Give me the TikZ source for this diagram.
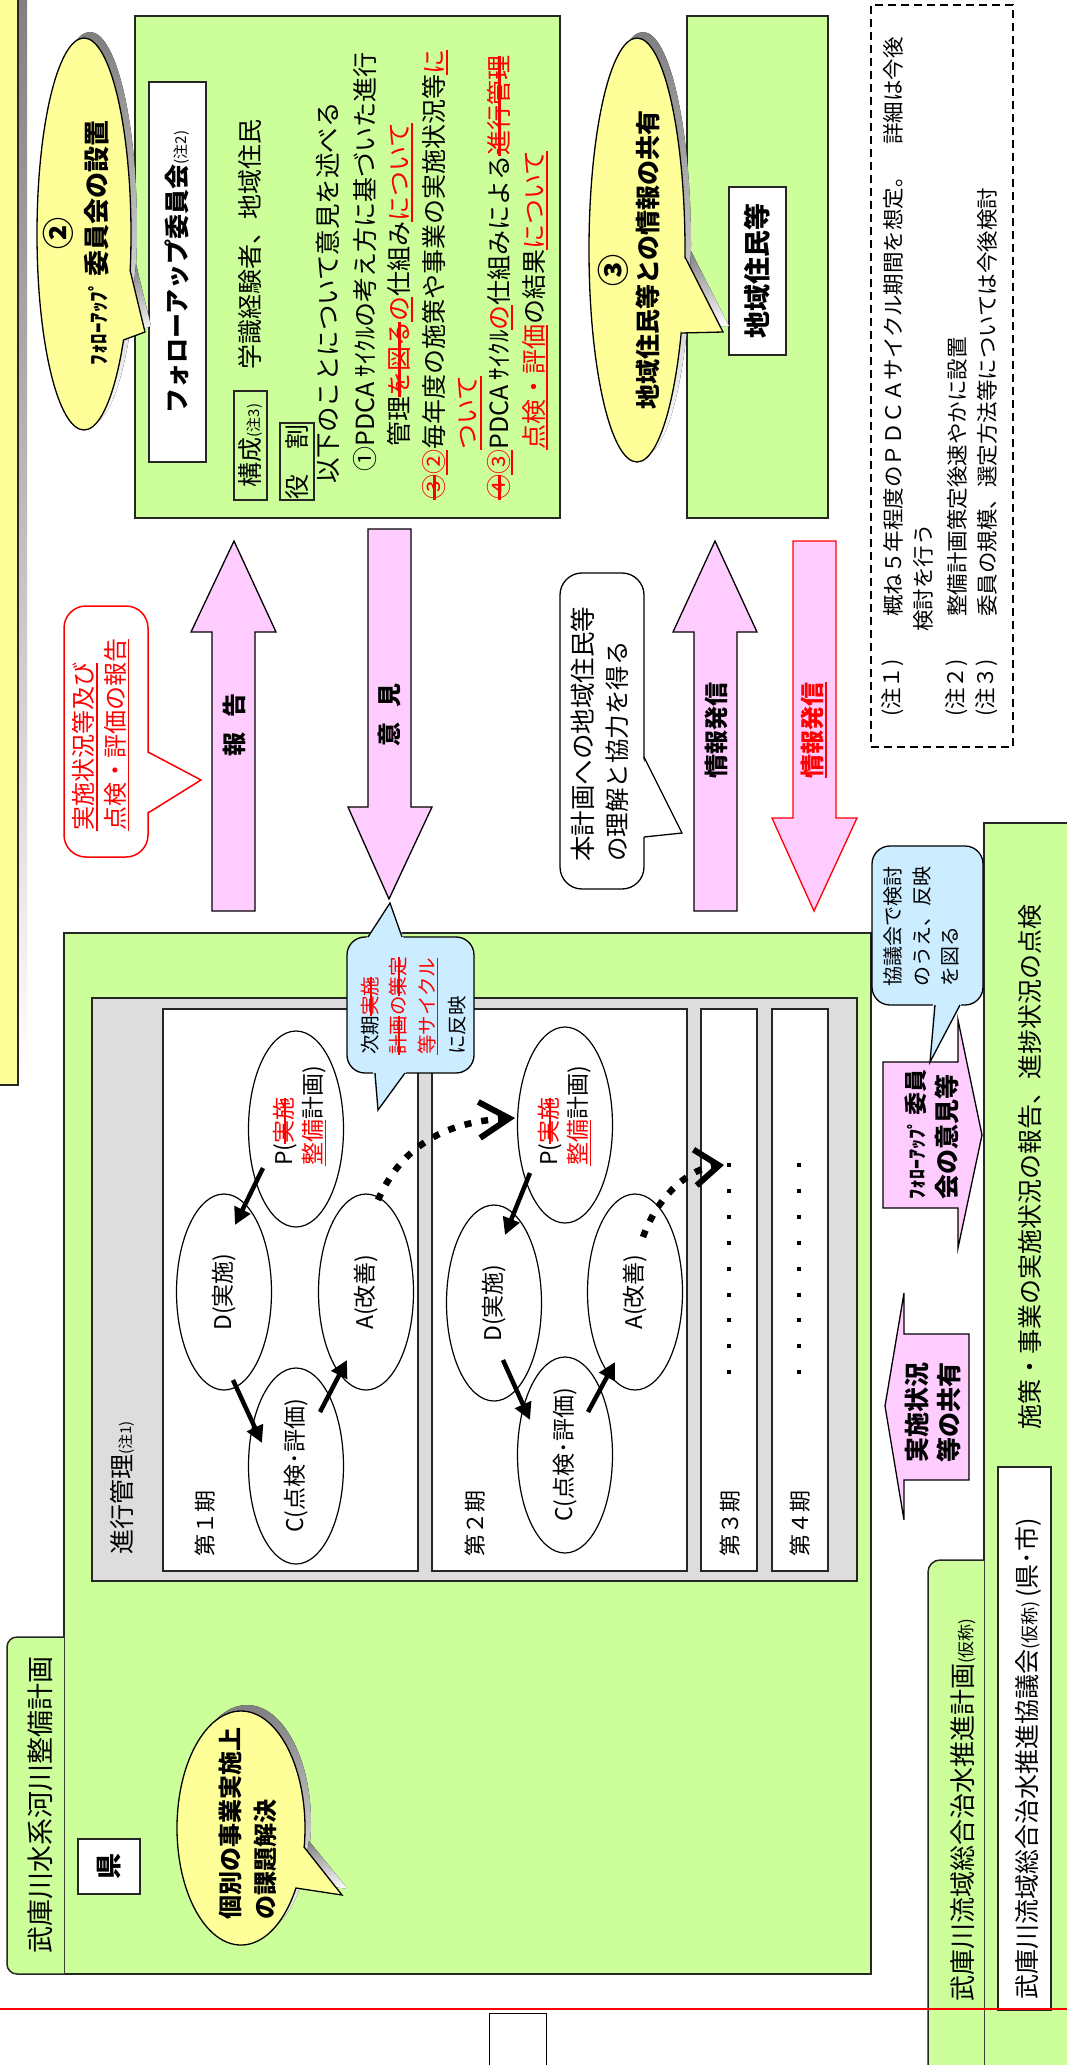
\documentclass[tikz,border=0pt]{standalone}
\usepackage{fontspec}
\setmainfont{Noto Sans CJK JP}
\usetikzlibrary{shapes.geometric,arrows.meta,calc,fit}
\definecolor{lgreen}{HTML}{CCFF99}
\definecolor{lyellow}{HTML}{FFFF99}
\definecolor{lpink}{HTML}{FFCCFF}
\definecolor{lblue}{HTML}{CCECFF}
\definecolor{lgray}{HTML}{DDDDDD}
\definecolor{shade}{HTML}{C4C4C4}
\newcommand\fz[1]{\fontsize{#1}{#1}\selectfont}
\newcommand\mystrike[1]{\setbox0=\hbox{#1}\rlap{\rule[0.3em]{\wd0}{0.1em}}\box0}
\newcommand\myul[1]{\setbox0=\hbox{#1}\rlap{\rule[-0.2em]{\wd0}{0.08em}}\box0}
\begin{document}
\begin{tikzpicture}[x=1pt,y=-1pt,
  tx/.style={rotate=90, inner sep=0pt},
  tw/.style={rotate=90, inner sep=0pt, anchor=west},
  frame/.style={draw=black!85, line width=1.5pt, inner sep=0pt},
  pdca/.style={ellipse, draw, fill=white, line width=1.2pt, minimum width=95pt, minimum height=196pt, inner sep=0pt},
  pdarr/.style={line width=4.5pt, -{Triangle[length=17pt,width=17pt]}},
  dotarr/.style={line width=6.5pt, dash pattern=on 7pt off 10pt},
  block/.style={draw, line width=1.3pt, fill=lpink, line join=miter},
  cl/.style={line width=1.3pt},
]
\useasboundingbox (0,0) rectangle (1067,2065);
\clip (0,0) rectangle (1067,2065);
\fill[white] (0,0) rectangle (1067,2065);

% ---------- left strip ----------
\fill[shade] (10,-10) rectangle (27,1079);
\node[frame, fill=lyellow, fit={(-10,-10)(18,1085)}] (strip) {};

% ---------- follow-up committee ----------
\node[frame, fill=lgreen, fit={(135,16)(560,518)}] (fu) {};
\node[frame, fill=white, fit={(149,82)(206,462)}] (funame) {};
\node[tx] (funamet) at (funame) {\bfseries\fz{25}フォローアップ委員会\mdseries\fz{15}(注2)};
\node[frame, line width=1.3pt, fit={(234,391)(267,500)}] (kosei) {};
\node[tx] (koseit) at (kosei) {\fz{25}構成\fz{15}(注3)};
\node[tw] (member) at (250,370) {\fz{25}学識経験者、地域住民};
\node[frame, line width=1.3pt, fit={(280,423)(314,500)}] (yaku) {};
\node[tx] (yakut) at (yaku) {\fz{25}役　割};
\node[tw] (l1) at (328,484) {\fz{25.5}以下のことについて意見を述べる};
\node[tw] (l2) at (365,472) {\fz{25}①PDCA ｻｲｸﾙの考え方に基づいた進行};
\node[tw] (l3) at (400,447) {\fz{25}管理\textcolor{red}{\mystrike{を図る}\myul{の}}仕組み\textcolor{red}{\myul{について}}};
\node[tw] (l4) at (435,500) {\fz{25}\textcolor{red}{\mystrike{③}\myul{②}}毎年度の施策や事業の実施状況等\textcolor{red}{\myul{に}}};
\node[tw] (l5) at (470,450) {\fz{25}\textcolor{red}{\myul{ついて}}};
\node[tw] (l6) at (500,500) {\fz{25}\textcolor{red}{\mystrike{④}\myul{③}}PDCA ｻｲｸﾙ\textcolor{red}{\myul{の}}仕組みによる\textcolor{red}{\mystrike{進行管理}}};
\node[tw] (l7) at (535,450) {\fz{25}\textcolor{red}{\myul{点検・評価}}の結果\textcolor{red}{\myul{について}}};

% callout 2
\fill[shade] (90,228) ellipse [x radius=47pt, y radius=196pt];
\fill[shade] (136,264)--(151,326)--(129,334)--cycle;
\node[ellipse, draw, cl, fill=lyellow, minimum width=94pt, minimum height=392pt, inner sep=0pt] (c2call) at (84,234) {};
\fill[lyellow] (130,270)--(145,332)--(123.5,340)--(112,305)--cycle;
\draw[cl] (130,270)--(145,332)--(123.5,340);
\node[tx] (c2num) at (58,233) {\bfseries\fz{32}②};
\node[tx] (c2t) at (97,243) {\bfseries\fz{21}ﾌｫﾛｰｱｯﾌﾟ \fz{26}委員会の設置};

% ---------- local residents ----------
\node[frame, fill=lgreen, fit={(687,16)(828,518)}] (jb) {};
\node[frame, fill=white, fit={(729,187)(786,355)}] (jmb) {};
\node[tx] (jmbt) at (jmb) {\bfseries\fz{27}地域住民等};

% callout 3
\fill[shade] (643,244) ellipse [x radius=48pt, y radius=212pt];
\fill[shade] (691,251)--(729,326)--(687,327)--cycle;
\node[ellipse, draw, cl, fill=lyellow, minimum width=96pt, minimum height=424pt, inner sep=0pt] (c3call) at (637,250) {};
\fill[lyellow] (685,257)--(723,332)--(681,333)--(670,295)--cycle;
\draw[cl] (685,257)--(723,332)--(681,333);
\node[tx] (c3num) at (613,270) {\bfseries\fz{32}③};
\node[tx] (c3t) at (648,260) {\bfseries\fz{25}地域住民等との情報の共有};

% ---------- notes ----------
\node[draw, line width=2pt, dash pattern=on 8pt off 5pt, inner sep=0pt, fit={(871,5)(1013,747)}] (notes) {};
\node[tw] (n1a) at (893,717) {\fz{21.5}(注１)};
\node[tw] (n1b) at (893,617) {\fz{21.5}概ね５年程度のＰＤＣＡサイクル期間を想定。　詳細は今後};
\node[tw] (n1c) at (923,632) {\fz{21.5}検討を行う};
\node[tw] (n2a) at (957,717) {\fz{21.5}(注２)};
\node[tw] (n2b) at (957,617) {\fz{21.5}整備計画策定後速やかに設置};
\node[tw] (n3a) at (987,717) {\fz{21.5}(注３)};
\node[tw] (n3b) at (987,617) {\fz{21.5}委員の規模、選定方法等については今後検討};

% ---------- block arrows ----------
\draw[block] (212,911)--(212,632)--(191,632)--(234,541)--(276,632)--(255,632)--(255,911)--cycle;
\node[tx] (houkoku) at (234,725) {\bfseries\fz{24}報\hspace{0.6em}告};
\draw[block] (368,529)--(411,529)--(411,807)--(432,807)--(389,899)--(348,807)--(368,807)--cycle;
\node[tx] (iken) at (389,715) {\bfseries\fz{24}意\hspace{0.6em}見};
\draw[block] (694,911)--(694,632)--(673,632)--(715,541)--(757,632)--(737,632)--(737,911)--cycle;
\node[tx] (hasshin1) at (716,730) {\bfseries\fz{24}情報発信};
\draw[block, draw=red] (793,541)--(836,541)--(836,818)--(857,818)--(814,911)--(772,818)--(793,818)--cycle;
\node[tx] (hasshin2) at (814,730) {\bfseries\fz{24}\textcolor{red}{\myul{情報発信}}};

% red callout
\draw[red, line width=1.5pt, fill=white, rounded corners=22pt] (64,606) rectangle (148,857);
\fill[white] (146,752)--(201,780)--(146,813)--cycle;
\draw[red, line width=1.5pt] (148,752)--(201,780)--(148,813);
\node[tw] (rc1) at (85,831) {\fz{24}\textcolor{red}{\myul{実施状況等及び}}};
\node[tw] (rc2) at (117,831) {\fz{24}\textcolor{red}{\myul{点検・評価の報告}}};

% understanding callout
\draw[cl, fill=white, rounded corners=22pt] (560,573) rectangle (644,889);
\fill[white] (642,757)--(682,833)--(642,837)--cycle;
\draw[cl] (644,757)--(682,833)--(644,837);
\node[tw] (uc1) at (583,862) {\fz{25.5}本計画への地域住民等};
\node[tw] (uc2) at (617,862) {\fz{24.5}の理解と協力を得る};

% ---------- river plan box ----------
\node[frame, fill=lgreen, fit={(64,933)(871,1974)}] (mainbox) {};
\draw[frame, fill=lgreen, rounded corners=10pt] (64,1637) -- (7,1637) -- (7,1974) -- (64,1974);
\node[tx] (maintitle) at (40,1805) {\fz{27}武庫川水系河川整備計画};
\node[frame, fill=white, fit={(78,1839)(140,1894)}] (ken) {};
\node[tx] (kent) at (ken) {\bfseries\fz{26}県};

% progress management
\node[frame, fill=lgray, fit={(92,998)(857,1581)}] (prog) {};
\node[tw] (progt) at (122,1555) {\fz{25}進行管理\fz{15}(注1)};
\node[frame, fill=white, fit={(163,1009)(418,1571)}] (per1) {};
\node[frame, fill=white, fit={(432,1009)(687,1571)}] (per2) {};
\node[frame, fill=white, fit={(701,1009)(757,1571)}] (per3) {};
\node[frame, fill=white, fit={(772,1009)(828,1571)}] (per4) {};
\node[tw] (per1t) at (205,1557) {\fz{22}第１期};
\node[tw] (per2t) at (475,1557) {\fz{22}第２期};
\node[tw] (per3t) at (730,1557) {\fz{22}第３期};
\node[tw] (per4t) at (800,1557) {\fz{22}第４期};
\foreach \i in {0,...,8} {
  \fill (727,1163+25.9*\i) rectangle (731,1167+25.9*\i);
  \fill (797,1163+25.9*\i) rectangle (801,1167+25.9*\i);
}

% PDCA period 1
\node[pdca] (p1) at (296,1129) {};
\node[pdca] (d1) at (224,1292) {};
\node[pdca] (c1) at (296,1466) {};
\node[pdca] (a1) at (366,1292) {};
\node[tx, align=left] (p1t) at (300,1116) {\fz{23}P(\textcolor{red}{\mystrike{実施}}\\[4pt]\fz{23}\textcolor{red}{\myul{整備}}計画)};
\node[tx] (d1t) at (d1) {\fz{23}D(実施)};
\node[tx] (c1t) at (c1) {\fz{23}C(点検･評価)};
\node[tx] (a1t) at (a1) {\fz{23}A(改善)};
\draw[pdarr] ($(p1)+(-33,39)$) -- ($(d1)+(11,-67)$);
\draw[pdarr] ($(d1)+(9,88)$) -- ($(c1)+(-34,-23)$);
\draw[pdarr] ($(c1)+(24,-54)$) -- ($(a1)+(-19,68)$);

% PDCA period 2
\node[pdca] (p2) at (565,1125) {};
\node[pdca] (d2) at (494,1303) {};
\node[pdca] (c2) at (565,1455) {};
\node[pdca] (a2) at (635,1292) {};
\node[tx, align=left] (p2t) at (565,1116) {\fz{23}P(\textcolor{red}{\mystrike{実施}}\\[4pt]\fz{23}\textcolor{red}{\myul{整備}}計画)};
\node[tx] (d2t) at (d2) {\fz{23}D(実施)};
\node[tx] (c2t) at (c2) {\fz{23}C(点検･評価)};
\node[tx] (a2t) at (a2) {\fz{23}A(改善)};
\draw[pdarr] ($(p2)+(-35,48)$) -- ($(d2)+(11,-68)$);
\draw[pdarr] ($(d2)+(9,57)$) -- ($(c2)+(-35,-35)$);
\draw[pdarr] ($(c2)+(23,-43)$) -- ($(a2)+(-20,70)$);

% dotted arrows between periods
\draw[dotarr, -{Straight Barb[length=30pt,width=36pt,line width=6pt]}] ($(a1)+(12,-92)$) .. controls ($(a1)+(34,-142)$) and ($(p2)+(-125,-3)$) .. ($(p2)+(-50,-7)$);
\coordinate (next3) at (724,1165);
\draw[dotarr, -{Straight Barb[length=24pt,width=36pt,line width=6pt]}] ($(a2)+(8,-55)$) .. controls ($(a2)+(23,-97)$) and ($(a2)+(55,-124)$) .. (next3);

% blue callout (next period)
\draw[cl, fill=lblue, rounded corners=18pt] (347,937) rectangle (474,1073);
\fill[lblue] (366,939)--(390,903)--(404,939)--cycle;
\draw[cl] (368,937)--(390,903)--(402,937);
\fill[lblue] (373,1071)--(378,1110)--(407,1071)--cycle;
\draw[cl] (375,1073)--(378,1110)--(405,1073);
\node[tw] (bc1) at (370,1055) {\fz{19.5}次期\textcolor{red}{\mystrike{実施}}};
\node[tw] (bc2) at (398,1055) {\fz{19.5}\textcolor{red}{\mystrike{計画}の\mystrike{策定}}};
\node[tw] (bc3) at (428,1055) {\fz{19.5}\textcolor{red}{\myul{等サイクル}}};
\node[tw] (bc4) at (457,1055) {\fz{19.5}に反映};

% individual callout
\fill[shade] (247,1822) ellipse [x radius=64pt, y radius=117pt];
\fill[shade] (309,1841)--(348,1889)--(302,1882)--cycle;
\node[ellipse, draw, cl, fill=lyellow, minimum width=128pt, minimum height=234pt, inner sep=0pt] (indcall) at (241,1828) {};
\fill[lyellow] (304,1847)--(342,1895)--(296,1888)--(285,1865)--cycle;
\draw[cl] (304,1847)--(342,1895)--(296,1888);
\node[tw] (ind1) at (230,1920) {\bfseries\fz{24}個別の事業実施上};
\node[tw] (ind2) at (265,1920) {\bfseries\fz{24}の課題解決};

% ---------- council box ----------
\node[frame, fill=lgreen, fit={(984,823)(1090,2090)}] (council) {};
\draw[frame, fill=lgreen, rounded corners=12pt] (984,1560) -- (928,1560) -- (928,2085) -- (984,2085);
\node[tw] (cplan) at (963,2002) {\fz{26}武庫川流域総合治水推進計画\fz{17}(仮称)};
\node[frame, fill=white, fit={(998,1467)(1051,2010)}] (cname) {};
\node[tw] (cnamet) at (1028,2000) {\fz{25}武庫川流域総合治水推進協議会\fz{18}(仮称) \fz{25}(県･市)};
\node[tw] (ctext) at (1030,1430) {\fz{25}施策・事業の実施状況の報告、進捗状況の点検};

% pink pentagons
\draw[block] (883,1062)--(958,1062)--(958,1020)--(982,1135)--(958,1248)--(958,1208)--(883,1208)--cycle;
\node[tw] (fb1) at (916,1200) {\bfseries\fz{20}ﾌｫﾛｰｱｯﾌﾟ \fz{23}委員};
\node[tw] (fb2) at (947,1200) {\bfseries\fz{25}会の意見等};
\draw[block] (969,1334)--(904,1334)--(904,1293)--(885,1406)--(904,1520)--(904,1480)--(969,1480)--cycle;
\node[tw] (sh1) at (917,1463) {\bfseries\fz{25}実施状況};
\node[tw] (sh2) at (949,1463) {\bfseries\fz{25}等の共有};

% blue callout (council)
\draw[cl, fill=lblue, rounded corners=18pt] (872,846) rectangle (983,1005);
\fill[lblue] (933,1003)--(930,1062)--(962,1003)--cycle;
\draw[cl] (935,1005)--(930,1062)--(960,1005);
\node[tw] (kc1) at (893,987) {\fz{20}協議会で検討};
\node[tw] (kc2) at (922,987) {\fz{20}のうえ、反映};
\node[tw] (kc3) at (950,987) {\fz{20}を図る};

% bottom red line
\draw[red, line width=1.5pt] (0,2009) -- (1067,2009);
\node[draw, line width=1pt, fill=white, fit={(493,2017)(543,2075)}] (redbox) {};
\end{tikzpicture}
\end{document}
